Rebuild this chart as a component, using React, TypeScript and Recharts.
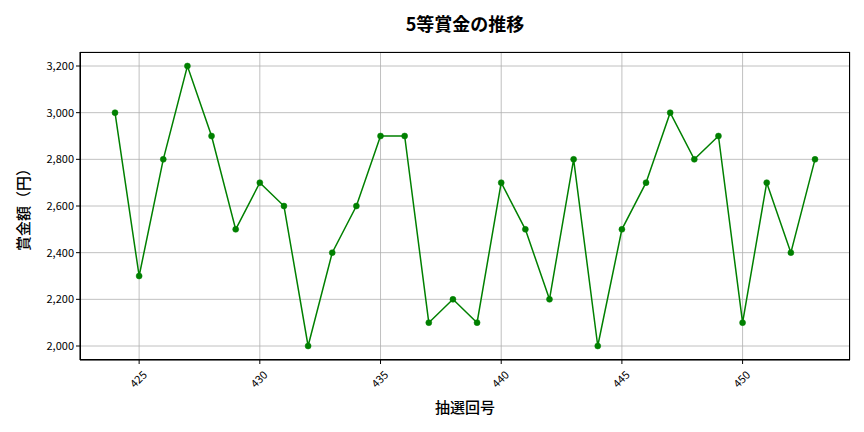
import { LineChart, Line, XAxis, YAxis, CartesianGrid } from 'recharts';

const FONT = '"Noto Sans CJK JP", "Noto Sans", sans-serif';

const draws = [424, 425, 426, 427, 428, 429, 430, 431, 432, 433, 434, 435, 436, 437, 438, 439, 440, 441, 442, 443, 444, 445, 446, 447, 448, 449, 450, 451, 452, 453];
const prizes = [3000, 2300, 2800, 3200, 2900, 2500, 2700, 2600, 2000, 2400, 2600, 2900, 2900, 2100, 2200, 2100, 2700, 2500, 2200, 2800, 2000, 2500, 2700, 3000, 2800, 2900, 2100, 2700, 2400, 2800];
const xTicks = [425, 430, 435, 440, 445, 450];
const yTicks = [2000, 2200, 2400, 2600, 2800, 3000, 3200];

const data = draws.map((d, i) => ({ draw: d, prize: prizes[i] }));

const XTick = ({ x, y, payload }: any) => (
  <text
    transform={`translate(${x},${y + 14}) rotate(-45)`}
    textAnchor="middle"
    dominantBaseline="middle"
    fontSize={11}
    fontFamily={FONT}
    fill="#000"
  >
    {payload.value}
  </text>
);

export default function App() {
  return (
    <div style={{ position: 'relative', width: 864, height: 432, background: '#fff' }}>
      <style>{'body{margin:0}'}</style>
      <LineChart width={864} height={432} data={data} margin={{ top: 52, right: 14, bottom: 32, left: 20 }}>
        <CartesianGrid stroke="#b0b0b0" strokeWidth={0.8} />
        <XAxis
          dataKey="draw"
          type="number"
          domain={[422.55, 454.45]}
          ticks={xTicks}
          allowDataOverflow
          height={40}
          tick={<XTick />}
          tickSize={4}
          stroke="#000"
        />
        <YAxis
          type="number"
          domain={[1940, 3260]}
          ticks={yTicks}
          allowDataOverflow
          width={60}
          tickSize={4}
          stroke="#000"
          tickFormatter={(v: number) => v.toLocaleString('en-US')}
          tick={{ fontSize: 11, fontFamily: FONT, fill: '#000' }}
        />
        <Line
          dataKey="prize"
          stroke="#008000"
          strokeWidth={1.5}
          dot={{ r: 3, fill: '#008000', stroke: '#008000', strokeWidth: 0.5 }}
          activeDot={false}
          isAnimationActive={false}
        />
      </LineChart>
      <div style={{ position: 'absolute', left: 80, top: 52, width: 770, height: 308, boxSizing: 'border-box', border: '1px solid #000', pointerEvents: 'none' }} />
      <div style={{ position: 'absolute', top: 10, left: 80, width: 770, textAlign: 'center', fontFamily: FONT, fontSize: 18, fontWeight: 'bold', color: '#000' }}>
        5等賞金の推移
      </div>
      <div style={{ position: 'absolute', top: 396, left: 80, width: 770, textAlign: 'center', fontFamily: FONT, fontSize: 15, fontWeight: 500, color: '#000' }}>
        抽選回号
      </div>
      <div style={{ position: 'absolute', left: 22, top: 206, transform: 'translate(-50%, -50%) rotate(-90deg)', whiteSpace: 'nowrap', fontFamily: FONT, fontSize: 15, fontWeight: 500, color: '#000' }}>
        賞金額（円）
      </div>
    </div>
  );
}
